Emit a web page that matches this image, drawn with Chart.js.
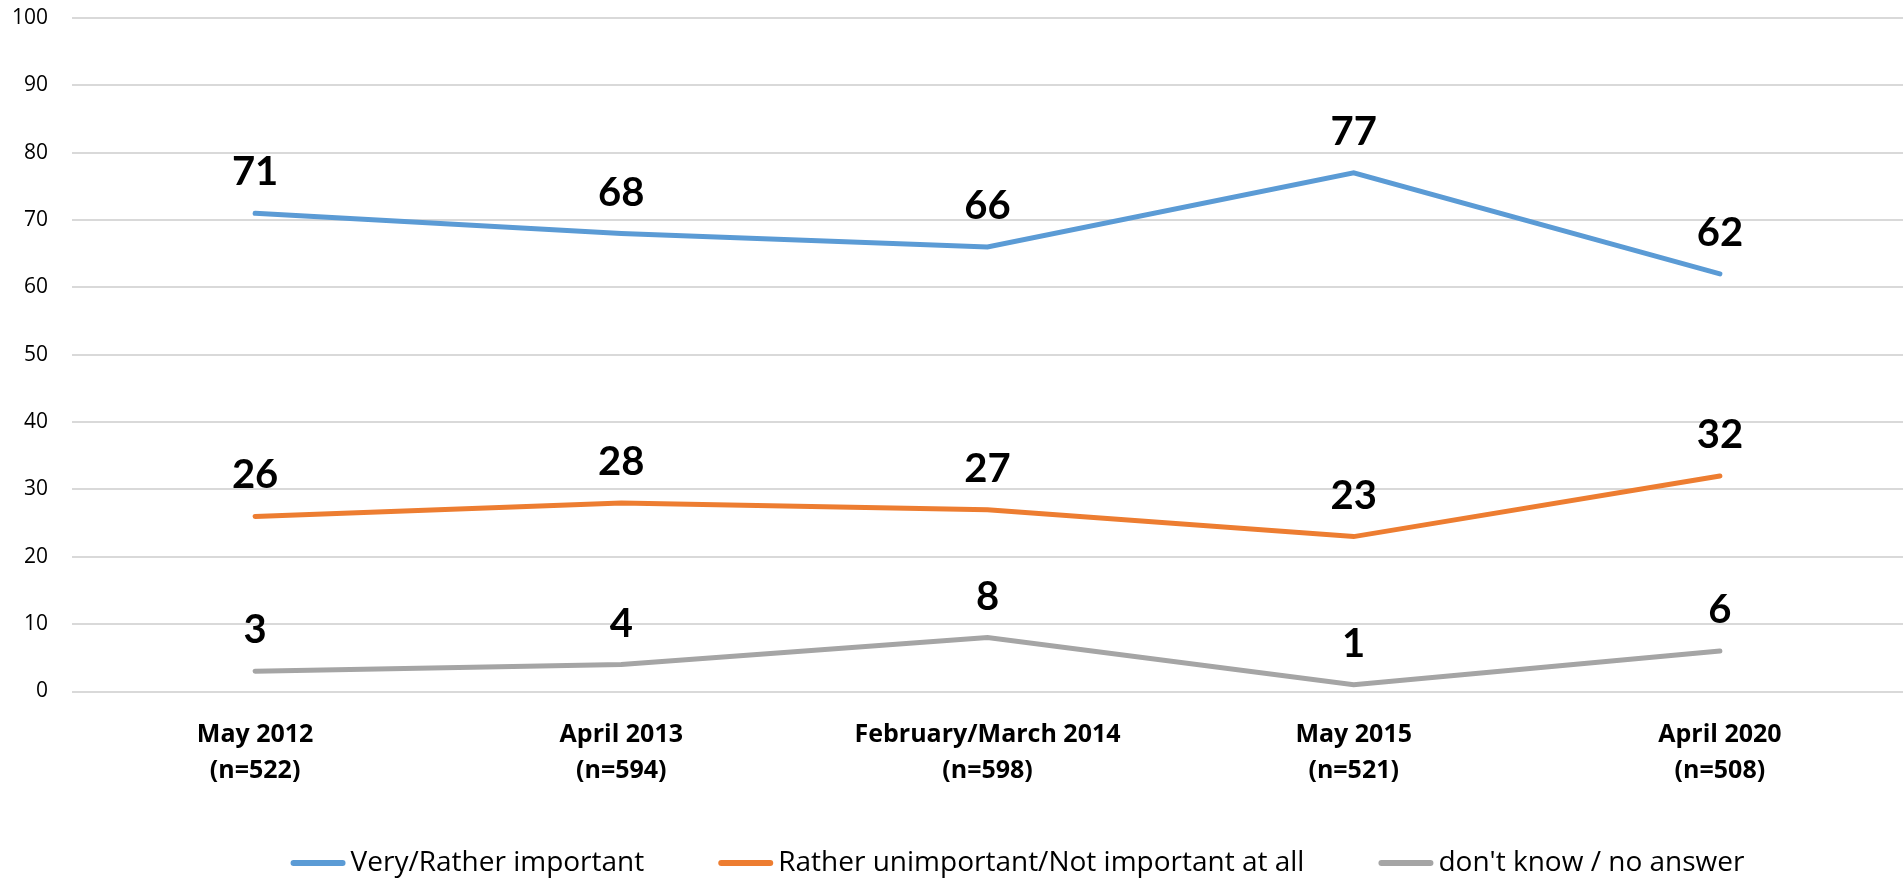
<!DOCTYPE html>
<html>
<head>
<meta charset="utf-8">
<script src="https://cdn.jsdelivr.net/npm/chart.js@4.4.0/dist/chart.umd.min.js"></script>
<style>
  html, body { margin: 0; padding: 0; background: #fff; }
  #wrap { width: 1903px; height: 881px; }
</style>
</head>
<body>
<div id="wrap"><canvas id="canvas"></canvas></div>
<script>
const labels = [
    ['May 2012', '(n=522)'],
    ['April 2013', '(n=594)'],
    ['February/March 2014', '(n=598)'],
    ['May 2015', '(n=521)'],
    ['April 2020', '(n=508)']
];
const important = [71, 68, 66, 77, 62];
const unimportant = [26, 28, 27, 23, 32];
const dontKnow = [3, 4, 8, 1, 6];

const seriesNames = ['Very/Rather important', 'Rather unimportant/Not important at all', "don't know / no answer"];
const colors = ['#5B9BD5', '#ED7D31', '#A5A5A5'];

// value labels above each point
const pointLabels = {
    id: 'pointLabels',
    afterDatasetsDraw(chart) {
        const ctx = chart.ctx;
        ctx.save();
        ctx.font = 'bold 40px Lato';
        ctx.fillStyle = '#000';
        ctx.textAlign = 'center';
        ctx.textBaseline = 'alphabetic';
        chart.data.datasets.forEach((ds, i) => {
            chart.getDatasetMeta(i).data.forEach((pt, j) => {
                ctx.fillText(ds.data[j], pt.x, pt.y - 28);
            });
        });
        ctx.restore();
    }
};

// legend drawn at the bottom: line swatch + text, centred
const lineLegend = {
    id: 'lineLegend',
    afterDraw(chart) {
        const ctx = chart.ctx;
        const swatch = 55, textGap = 5, itemGap = 74, y = 863;
        ctx.save();
        ctx.font = '28px "Open Sans"';
        ctx.textBaseline = 'middle';
        const items = chart.data.datasets.map(ds => ({
            text: ds.label, color: ds.borderColor, w: ctx.measureText(ds.label).width
        }));
        let total = 0;
        items.forEach((it, i) => { total += swatch + textGap + it.w + (i < items.length - 1 ? itemGap : 0); });
        let x = chart.width / 2 + 66 - total / 2;
        items.forEach(it => {
            ctx.strokeStyle = it.color;
            ctx.lineWidth = 6;
            ctx.lineCap = 'round';
            ctx.beginPath();
            ctx.moveTo(x + 3, y);
            ctx.lineTo(x + swatch - 3, y);
            ctx.stroke();
            ctx.fillStyle = '#000';
            ctx.fillText(it.text, x + swatch + textGap, y);
            x += swatch + textGap + it.w + itemGap;
        });
        ctx.restore();
    }
};

function makeSet(name, values, color) {
    return {
        label: name,
        data: values,
        borderColor: color,
        backgroundColor: color,
        borderWidth: 5,
        pointRadius: 0,
        borderCapStyle: 'round',
        tension: 0
    };
}

const data = {
    labels: labels,
    datasets: [
        makeSet(seriesNames[0], important, colors[0]),
        makeSet(seriesNames[1], unimportant, colors[1]),
        makeSet(seriesNames[2], dontKnow, colors[2])
    ]
};

const config = {
    type: 'line',
    data: data,
    options: {
        responsive: true,
        maintainAspectRatio: false,
        animation: false,
        layout: { padding: { top: 0, left: 0, right: 0, bottom: 67 } },
        scales: {
            x: {
                offset: true,
                grid: { display: false, drawTicks: false },
                border: { display: false },
                ticks: {
                    color: '#000',
                    font: { family: 'Open Sans', size: 25, weight: 'bold', lineHeight: 1.45 },
                    padding: 25,
                    maxRotation: 0
                }
            },
            y: {
                min: 0,
                max: 100,
                grid: { color: '#D9D9D9', lineWidth: 2, drawTicks: false },
                border: { display: false },
                ticks: {
                    stepSize: 10,
                    color: '#000',
                    font: { family: 'Open Sans', size: 21 },
                    padding: 24
                },
                afterFit(scale) {
                    scale.width = 72;
                    scale.paddingTop = 18;
                    scale.paddingBottom = 0;
                }
            }
        },
        plugins: {
            tooltip: { enabled: false },
            legend: { display: false }
        }
    },
    plugins: [pointLabels, lineLegend]
};

const canvas = document.getElementById('canvas');
const chart = new Chart(canvas, config);
</script>
</body>
</html>
